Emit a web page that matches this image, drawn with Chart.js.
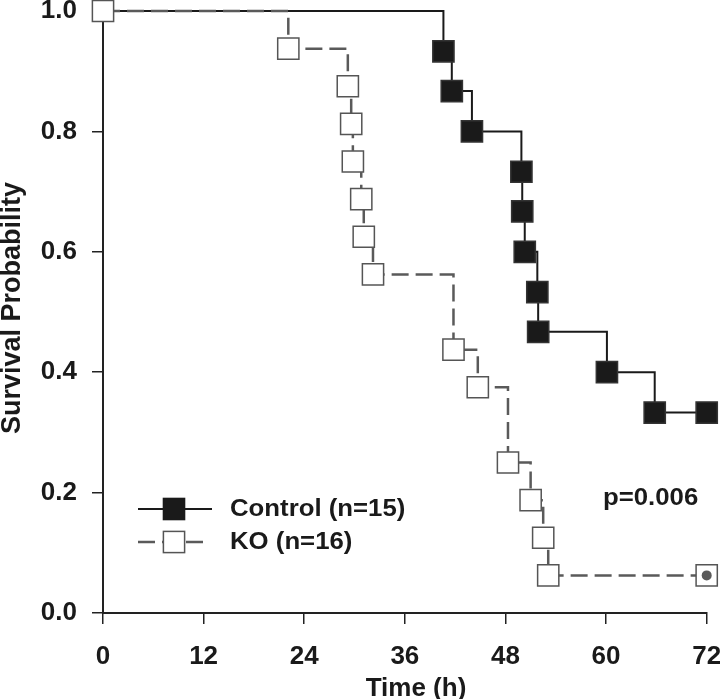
<!DOCTYPE html>
<html>
<head>
<meta charset="utf-8">
<title>Survival Probability</title>
<script src="https://cdn.jsdelivr.net/npm/chart.js@4.4.1/dist/chart.umd.min.js"></script>
<style>
  html, body { margin: 0; padding: 0; background: #fff; }
  #wrap { width: 720px; height: 699px; }
</style>
</head>
<body>
<div id="wrap"><canvas id="kmChart" width="720" height="699"></canvas></div>
<script>
// Control 군 (n=15) - 사망 시점 / 생존율
var controlTime = [0, 40.6, 41.6, 44.0, 49.9, 50.0, 50.3, 51.8, 51.9, 60.1, 65.8, 72];
var controlSurv = [1.0, 0.933, 0.867, 0.8, 0.733, 0.667, 0.6, 0.533, 0.467, 0.4, 0.333, 0.333];

// KO 군 (n=16)
var koTime = [0, 22.1, 29.2, 29.6, 29.8, 30.8, 31.1, 32.2, 41.8, 44.7, 48.3, 51.0, 52.5, 53.1, 72];
var koSurv = [1.0, 0.9375, 0.875, 0.8125, 0.75, 0.6875, 0.625, 0.5625, 0.4375, 0.375, 0.25, 0.1875, 0.125, 0.0625, 0.0625];

// 마지막 censored 표시 (점)
var koCensorTime = [72];
var koCensorSurv = [0.0625];

var xTicks = [0, 12, 24, 36, 48, 60, 72];
var yTicks = [0.0, 0.2, 0.4, 0.6, 0.8, 1.0];

var seriesNames = ['Control (n=15)', 'KO (n=16)'];
var xTitle = 'Time (h)';
var yTitle = 'Survival Probability';
var pText = 'p=0.006';

function toPoints(xs, ys) {
    var pts = [];
    for (var i = 0; i < xs.length; i++) {
        pts.push({ x: xs[i], y: ys[i] });
    }
    return pts;
}

var TEXT_COLOR = '#1a1a1a';
var KO_GRAY = '#5a5a5a';
var FONT = '"Liberation Sans", Arial, Helvetica, sans-serif';

// 첫 점(0,1.0)은 Control 마커 없음
var controlRadius = controlTime.map(function(t, i) { return i === 0 ? 0 : 15; });

// 텍스트/범례 그리기 플러그인
var kmTextPlugin = {
    id: 'kmText',
    afterDraw: function(chart) {
        var ctx = chart.ctx;
        var area = chart.chartArea;
        ctx.save();
        ctx.fillStyle = TEXT_COLOR;

        // x축 제목
        ctx.font = 'bold 26px ' + FONT;
        ctx.textAlign = 'center';
        ctx.textBaseline = 'alphabetic';
        ctx.fillText(xTitle, area.left + 313, 696);

        // y축 제목 (회전)
        ctx.font = 'bold 27px ' + FONT;
        ctx.save();
        ctx.translate(20, (area.top + area.bottom) / 2 - 4);
        ctx.rotate(-Math.PI / 2);
        ctx.fillText(yTitle, 0, 0);
        ctx.restore();

        // p 값
        ctx.font = 'bold 23px ' + FONT;
        ctx.textAlign = 'left';
        ctx.save();
        ctx.translate(603, 505);
        ctx.scale(1.12, 1);
        ctx.fillText(pText, 0, 0);
        ctx.restore();

        // 범례
        var lx0 = area.left + 35, lx1 = area.left + 109, mx = area.left + 71;
        var rowY = [509, 542];

        // Control
        ctx.strokeStyle = TEXT_COLOR;
        ctx.lineWidth = 2;
        ctx.setLineDash([]);
        ctx.beginPath();
        ctx.moveTo(lx0, rowY[0]);
        ctx.lineTo(lx1, rowY[0]);
        ctx.stroke();
        ctx.fillRect(mx - 11.3, rowY[0] - 11.3, 22.6, 22.6);

        // KO
        ctx.strokeStyle = KO_GRAY;
        ctx.lineWidth = 2.5;
        ctx.setLineDash([17, 7]);
        ctx.beginPath();
        ctx.moveTo(lx0, rowY[1]);
        ctx.lineTo(lx1 - 9, rowY[1]);
        ctx.stroke();
        ctx.setLineDash([]);
        ctx.fillStyle = '#fff';
        ctx.fillRect(mx - 10.6, rowY[1] - 10.6, 21.2, 21.2);
        ctx.strokeStyle = '#555';
        ctx.lineWidth = 1.5;
        ctx.strokeRect(mx - 10.6, rowY[1] - 10.6, 21.2, 21.2);

        ctx.fillStyle = TEXT_COLOR;
        ctx.font = 'bold 23px ' + FONT;
        ctx.textBaseline = 'middle';
        for (var i = 0; i < seriesNames.length; i++) {
            ctx.save();
            ctx.translate(area.left + 127, rowY[i] + 1);
            ctx.scale(1.12, 1);
            ctx.fillText(seriesNames[i], 0, 0);
            ctx.restore();
        }
        ctx.restore();
    }
};

var ctx = document.getElementById('kmChart').getContext('2d');
var myChart = new Chart(ctx, {
    type: 'line',
    data: {
        datasets: [{
            label: seriesNames[0],
            data: toPoints(controlTime, controlSurv),
            stepped: 'before',
            borderColor: TEXT_COLOR,
            borderWidth: 2,
            pointStyle: 'rect',
            pointRadius: controlRadius,
            pointBackgroundColor: TEXT_COLOR,
            pointBorderColor: '#333',
            pointBorderWidth: 1.5,
            clip: false,
            order: 2
        },
        {
            label: seriesNames[1],
            data: toPoints(koTime, koSurv),
            stepped: 'before',
            borderColor: KO_GRAY,
            borderWidth: 2.5,
            borderDash: [17, 7],
            pointStyle: 'rect',
            pointRadius: 15,
            pointBackgroundColor: '#fff',
            pointBorderColor: '#555',
            pointBorderWidth: 1.5,
            clip: false,
            order: 1
        },
        {
            label: 'censored',
            data: toPoints(koCensorTime, koCensorSurv),
            showLine: false,
            pointStyle: 'circle',
            pointRadius: 5,
            pointBackgroundColor: '#5a5a5a',
            pointBorderWidth: 0,
            clip: false,
            order: 0
        }]
    },
    options: {
        responsive: false,
        animation: false,
        events: [],
        layout: { autoPadding: false, padding: 0 },
        plugins: {
            legend: { display: false },
            tooltip: { enabled: false }
        },
        scales: {
            x: {
                type: 'linear',
                min: 0,
                max: 72,
                afterBuildTicks: function(scale) {
                    scale.ticks = xTicks.map(function(v) { return { value: v }; });
                },
                afterFit: function(scale) {
                    scale.height = 86;
                    // ticks.padding 이 오른쪽 여백에 더해지는 것 보정
                    scale.paddingLeft = 0;
                    scale.paddingRight = 13.3;
                },
                grid: { drawOnChartArea: false, tickLength: 11, color: '#222', lineWidth: 1.5 },
                border: { color: '#222', width: 2 },
                ticks: {
                    color: TEXT_COLOR,
                    padding: 22,
                    maxRotation: 0,
                    font: { family: FONT, size: 26, weight: 'bold', lineHeight: 0.85 }
                }
            },
            y: {
                type: 'linear',
                min: 0,
                max: 1,
                afterBuildTicks: function(scale) {
                    scale.ticks = yTicks.map(function(v) { return { value: v }; });
                },
                afterFit: function(scale) {
                    scale.width = 103;
                    scale.paddingTop = 11;
                    scale.paddingBottom = 0;
                },
                grid: { drawOnChartArea: false, tickLength: 11, color: '#222', lineWidth: 1.5 },
                border: { color: '#222', width: 2 },
                ticks: {
                    color: TEXT_COLOR,
                    padding: 15,
                    font: { family: FONT, size: 26, weight: 'bold', lineHeight: 0.8 },
                    callback: function(v) { return Number(v).toFixed(1); }
                }
            }
        }
    },
    plugins: [kmTextPlugin]
});
</script>
</body>
</html>
